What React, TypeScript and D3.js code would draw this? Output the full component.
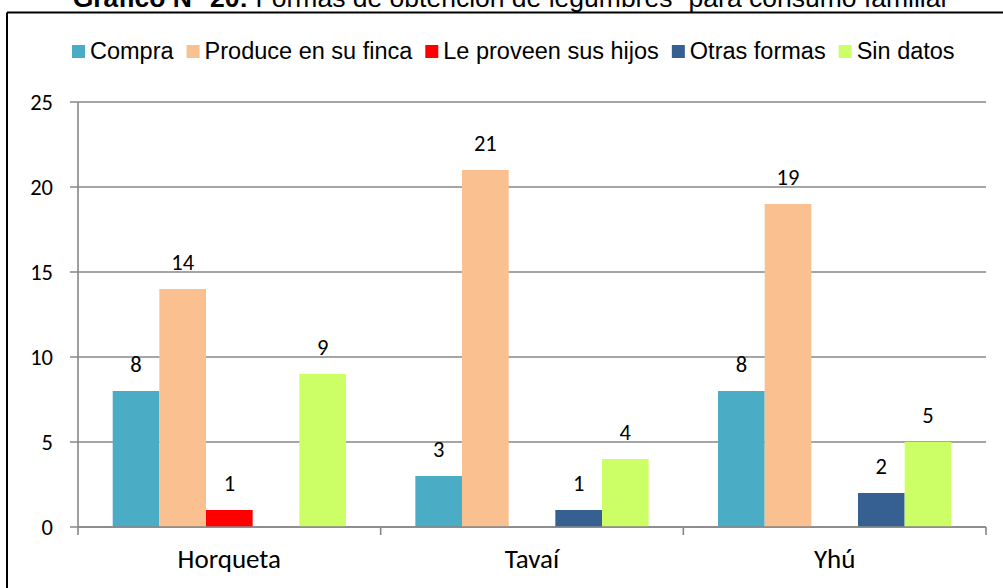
import React from "react";
import * as d3 from "d3";

const categories = ["Horqueta", "Tavaí", "Yhú"];
const seriesNames = ["Compra", "Produce en su finca", "Le proveen sus hijos", "Otras formas", "Sin datos"];
const compra = [8, 3, 8];
const produce = [14, 21, 19];
const proveen = [1, 0, 0];
const otras = [0, 1, 2];
const sinDatos = [9, 4, 5];
const yTicks = [0, 5, 10, 15, 20, 25];
const colors = ["#4BACC6", "#FAC090", "#FF0000", "#366092", "#CCFF66"];

const seriesValues = [compra, produce, proveen, otras, sinDatos];

const W = 1003;
const H = 588;
const plot = { left: 78, right: 986, top: 102, bottom: 527 };

const LEGEND_FONT = "'Liberation Sans', Arial, sans-serif";
const CAL_FONT = "Carlito, Calibri, Lato, sans-serif";

function measure(text: string, font: string): number {
  const c = document.createElement("canvas").getContext("2d");
  if (!c) return text.length * 12;
  c.font = font;
  return c.measureText(text).width;
}

export default function App() {
  const x0 = d3.scaleBand<string>().domain(categories).range([plot.left, plot.right]).padding(0);
  const bw = x0.bandwidth();
  const x1 = d3
    .scaleBand<string>()
    .domain(seriesNames)
    .range([bw * 0.1146, bw * 0.8854])
    .padding(0);
  const y = d3.scaleLinear().domain([0, 25]).range([plot.bottom, plot.top]);

  // legend layout
  const legendFontSize = 23.5;
  let lx = 72;
  const legendItems = seriesNames.map((name, i) => {
    const w = measure(name, `${legendFontSize}px 'Liberation Sans', Arial, sans-serif`);
    const item = { name, color: colors[i], x: lx, w };
    lx += 13 + 5 + w + 13;
    return item;
  });

  const boundaries = [plot.left, ...categories.map((c) => (x0(c) as number) + bw)];

  return (
    <svg
      width={W}
      height={H}
      style={{ position: "absolute", left: 0, top: 0, background: "#fff" }}
      xmlns="http://www.w3.org/2000/svg"
    >
      <rect x={0} y={0} width={W} height={H} fill="#fff" />
      {/* frame */}
      <line x1={7} y1={12.5} x2={W + 5} y2={12.5} stroke="#000" strokeWidth={2} />
      <line x1={7} y1={12.5} x2={7} y2={H + 5} stroke="#000" strokeWidth={2} />

      {/* title (its top is cut off by the picture's edge, as in the reference) */}
      <text
        x={511}
        y={7}
        textAnchor="middle"
        fontFamily={LEGEND_FONT}
        fontSize={26.5}
        fill="#000"
      >
        <tspan fontWeight="bold">Gráfico N° 20:</tspan>
        <tspan> Formas de obtención de legumbres” para consumo familiar</tspan>
      </text>

      {/* legend */}
      {legendItems.map((it) => (
        <g key={it.name}>
          <rect x={it.x} y={45} width={13} height={13} fill={it.color} />
          <text x={it.x + 18} y={59} fontFamily={LEGEND_FONT} fontSize={legendFontSize} fill="#000">
            {it.name}
          </text>
        </g>
      ))}

      {/* gridlines */}
      {yTicks.map((t) => (
        <g key={t}>
          <line x1={plot.left - 8} x2={plot.right} y1={y(t)} y2={y(t)} stroke="#878787" strokeWidth={1.6} />
          <text
            x={53}
            y={y(t)}
            textAnchor="end"
            dominantBaseline="central"
            fontFamily={CAL_FONT}
            fontSize={22.5}
            fill="#000"
          >
            {t}
          </text>
        </g>
      ))}

      {/* y axis */}
      <line x1={plot.left} x2={plot.left} y1={plot.top} y2={plot.bottom} stroke="#878787" strokeWidth={1.6} />
      {/* x tick marks */}
      {boundaries.map((b, i) => (
        <line key={i} x1={b} x2={b} y1={plot.bottom} y2={plot.bottom + 8} stroke="#878787" strokeWidth={1.6} />
      ))}

      {/* bars */}
      {categories.map((cat, ci) => (
        <g key={cat} transform={`translate(${x0(cat)},0)`}>
          {seriesNames.map((s, si) => {
            const v = seriesValues[si][ci];
            if (v === 0) return null;
            const bx = x1(s) as number;
            return (
              <g key={s}>
                <rect
                  x={bx}
                  y={y(v)}
                  width={x1.bandwidth()}
                  height={y(0) - y(v)}
                  fill={colors[si]}
                />
                <text
                  x={bx + x1.bandwidth() / 2}
                  y={y(v) - 19}
                  textAnchor="middle"
                  fontFamily={CAL_FONT}
                  fontSize={22.5}
                  fill="#000"
                >
                  {v}
                </text>
              </g>
            );
          })}
        </g>
      ))}

      {/* axis line on top of bars */}
      <line x1={plot.left} x2={plot.right} y1={plot.bottom} y2={plot.bottom} stroke="#878787" strokeWidth={1.6} />

      {/* category labels */}
      {categories.map((cat) => (
        <text
          key={cat}
          x={(x0(cat) as number) + bw / 2}
          y={568}
          textAnchor="middle"
          fontFamily={CAL_FONT}
          fontSize={27}
          fill="#000"
        >
          {cat}
        </text>
      ))}
    </svg>
  );
}
